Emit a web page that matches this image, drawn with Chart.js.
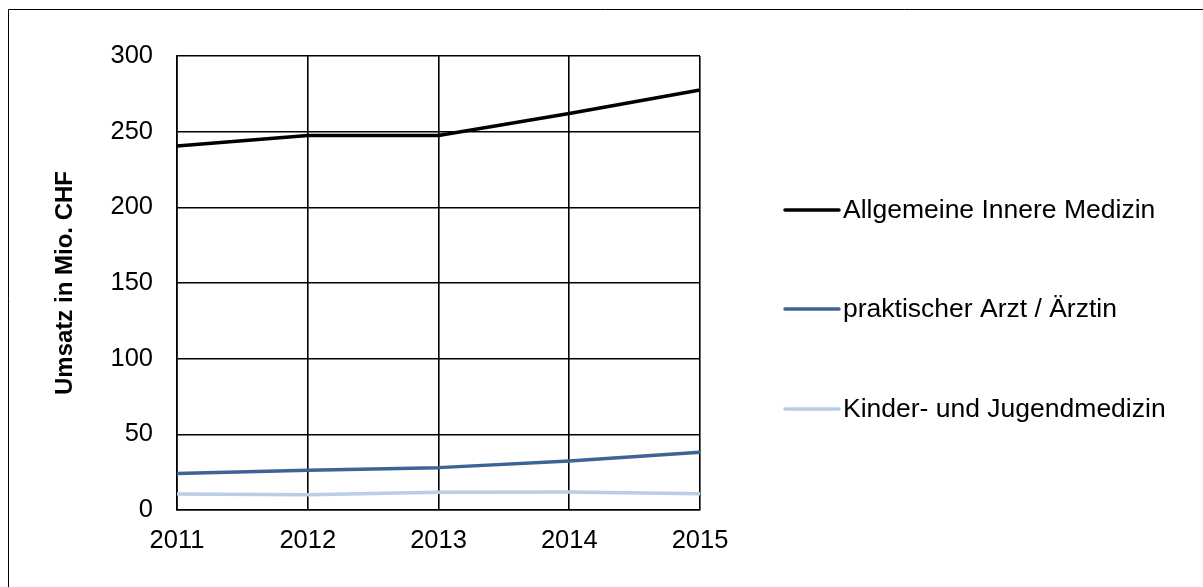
<!DOCTYPE html>
<html lang="de">
<head>
<meta charset="utf-8">
<title>Umsatz in Mio. CHF</title>
<script src="https://cdn.jsdelivr.net/npm/chart.js@4"></script>
<style>
  html, body { margin: 0; padding: 0; background: #ffffff; }
  #wrap { width: 1203px; height: 587px; position: relative; }
  canvas { display: block; }
</style>
</head>
<body>
<div id="wrap"><canvas id="chart" width="1203" height="587"></canvas></div>
<script>
// Jahre auf der x-Achse
const years = ['2011', '2012', '2013', '2014', '2015'];

// Umsatz in Mio. CHF je Fachrichtung
const allgemeineInnereMedizin = [240.5, 247.5, 247.5, 262, 277.5];
const praktischerArzt = [24.2, 26.2, 28, 32.4, 38.1];
const kinderJugendmedizin = [10.6, 10.1, 11.7, 11.9, 10.8];

// Serienbezeichnungen und Farben
const seriesNames = ['Allgemeine Innere Medizin', 'praktischer Arzt / Ärztin', 'Kinder- und Jugendmedizin'];
const seriesColors = ['#000000', '#3C6494', '#B9CDE5'];

// y-Achse
const yMin = 0;
const yMax = 300;
const yStep = 50;
const yTitle = 'Umsatz in Mio. CHF';

const FONT = '"Liberation Sans", Arial, sans-serif';

// Rahmen um die gesamte Grafik
const framePlugin = {
  id: 'frame',
  beforeDraw(chart) {
    const ctx = chart.ctx;
    ctx.save();
    ctx.fillStyle = '#ffffff';
    ctx.fillRect(0, 0, chart.width, chart.height);
    ctx.strokeStyle = '#000000';
    ctx.lineWidth = 1;
    ctx.beginPath();
    ctx.moveTo(8.5, chart.height);
    ctx.lineTo(8.5, 9.5);
    ctx.lineTo(chart.width, 9.5);
    ctx.stroke();
    ctx.restore();
  }
};

// Legende rechts neben dem Diagramm
const sideLegendPlugin = {
  id: 'sideLegend',
  afterDraw(chart) {
    const ctx = chart.ctx;
    const x0 = 785, x1 = 839, tx = 843;
    const rows = [210, 309, 409];
    ctx.save();
    ctx.font = '26.5px ' + FONT;
    ctx.textBaseline = 'middle';
    ctx.textAlign = 'left';
    chart.data.datasets.forEach((ds, i) => {
      const y = rows[i];
      ctx.strokeStyle = ds.borderColor;
      ctx.lineWidth = 3.5;
      ctx.lineCap = 'round';
      ctx.beginPath();
      ctx.moveTo(x0, y);
      ctx.lineTo(x1, y);
      ctx.stroke();
      ctx.fillStyle = '#000000';
      ctx.fillText(ds.label, tx, y + 1);
    });
    ctx.restore();
  }
};

const datasets = [allgemeineInnereMedizin, praktischerArzt, kinderJugendmedizin].map((values, i) => ({
  label: seriesNames[i],
  data: values,
  borderColor: seriesColors[i],
  backgroundColor: seriesColors[i],
  borderWidth: 3.5,
  pointRadius: 0,
  pointHoverRadius: 0,
  tension: 0,
  fill: false,
  borderCapStyle: 'butt',
  borderJoinStyle: 'round',
  order: i
}));

new Chart(document.getElementById('chart'), {
  type: 'line',
  data: { labels: years, datasets },
  plugins: [framePlugin, sideLegendPlugin],
  options: {
    responsive: false,
    animation: false,
    devicePixelRatio: 1,
    events: [],
    layout: { padding: { left: 0, top: 56, right: 503, bottom: 0 } },
    plugins: {
      legend: { display: false },
      tooltip: { enabled: false },
      title: { display: false }
    },
    scales: {
      x: {
        type: 'category',
        offset: false,
        afterFit(scale) { scale.height = 77; },
        grid: { color: '#000000', lineWidth: 1.6, drawTicks: false },
        border: { color: '#000000', width: 1.6 },
        ticks: {
          color: '#000000',
          padding: 16,
          maxRotation: 0,
          autoSkip: false,
          font: { family: FONT, size: 25.5, lineHeight: 1.2 }
        }
      },
      y: {
        min: yMin,
        max: yMax,
        afterFit(scale) { scale.width = 177; },
        grid: { color: '#000000', lineWidth: 1.6, drawTicks: false },
        border: { color: '#000000', width: 1.6 },
        ticks: {
          stepSize: yStep,
          color: '#000000',
          padding: 24,
          font: { family: FONT, size: 25.5, lineHeight: 1.2 }
        },
        title: {
          display: true,
          text: yTitle,
          color: '#000000',
          padding: { top: 50.6, bottom: 0 },
          font: { family: FONT, size: 24, weight: 'bold', lineHeight: 1.2 }
        }
      }
    }
  }
});
</script>
</body>
</html>
